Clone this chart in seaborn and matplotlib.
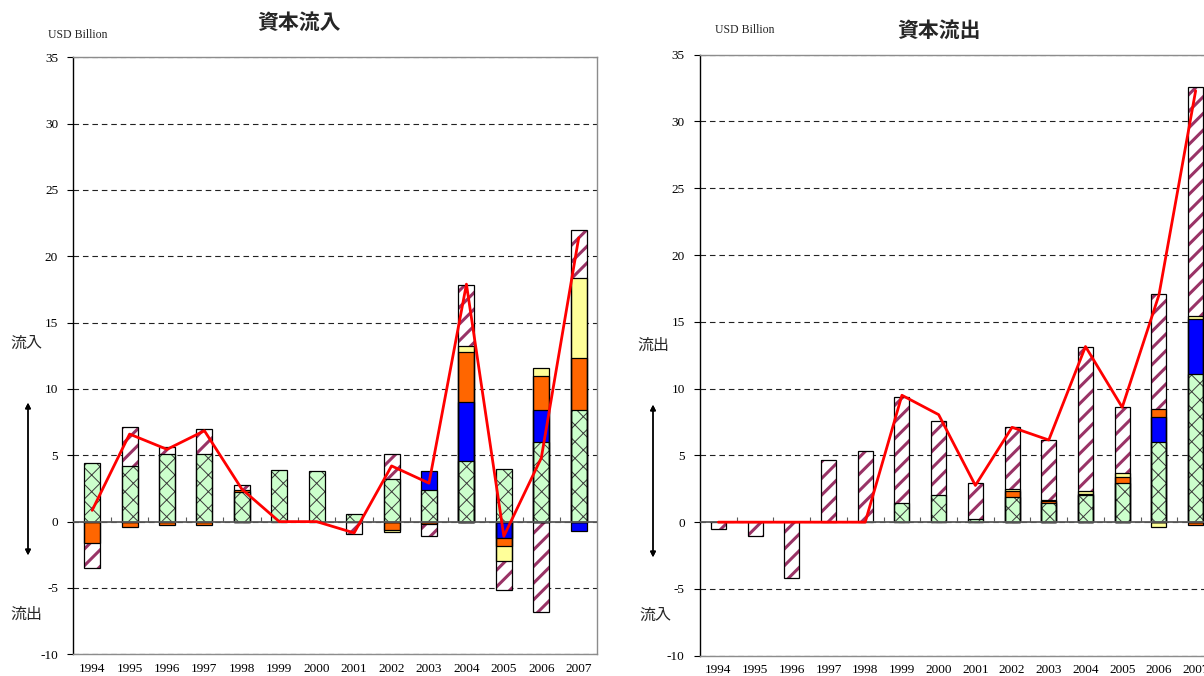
import numpy as np
import seaborn as sns
import matplotlib.pyplot as plt

years = [str(y) for y in range(1994, 2008)]

# 資本流入 (USD Billion), stacked bottom -> top
green_in = [4.4, 4.2, 5.1, 5.1, 2.2, 3.9, 3.8, 0.6, 3.2, 2.4, 4.6, 4.0, 6.0, 8.4]
blue_in = [0, 0, 0, 0, 0, 0, 0, 0, 0, 1.4, 4.4, -1.2, 2.4, -0.7]
orange_in = [-1.6, -0.4, -0.25, -0.25, 0.2, 0, 0, 0, -0.6, -0.15, 3.8, -0.6, 2.6, 3.9]
yellow_in = [0, 0, 0, 0, 0, 0, 0, 0, -0.2, 0, 0.45, -1.2, 0.6, 6.1]
purple_in = [-1.9, 2.9, 0.5, 1.9, 0.35, 0, 0, -0.9, 1.9, -0.9, 4.6, -2.15, -6.8, 3.6]
net_in = [0.85, 6.6, 5.45, 6.85, 2.45, 0, 0, -0.85, 4.2, 2.9, 17.9, -1.1, 4.8, 21.4]

# 資本流出 (USD Billion)
green_out = [0, 0, 0, 0, 0, 1.4, 2.05, 0.25, 1.9, 1.4, 2.05, 2.95, 6.0, 11.1]
blue_out = [0, 0, 0, 0, 0, 0, 0, 0, 0, 0, 0, 0, 1.9, 4.1]
orange_out = [0, 0, 0, 0, 0, 0, 0, 0, 0.45, 0.15, 0.08, 0.4, 0.6, -0.25]
yellow_out = [0, 0, 0, 0, 0, 0, 0, 0, 0.1, 0.1, 0.22, 0.35, -0.35, 0.2]
purple_out = [-0.5, -1.0, -4.15, 4.65, 5.3, 7.95, 5.55, 2.7, 4.65, 4.5, 10.8, 4.9, 8.6, 17.2]
net_out = [0, 0, 0, 0, 0, 9.5, 8.05, 2.75, 7.1, 6.15, 13.15, 8.6, 17.0, 32.3]

# face colour, hatch, hatch colour, hatch width
layers = [
    ('#CCFFCC', 'xx', '#3a3a3a', 0.7),
    ('#0000FF', None, None, 0),
    ('#FF6600', None, None, 0),
    ('#FFFF99', None, None, 0),
    ('#FFFFFF', '//', '#993366', 2.2),
]

sns.set_theme(style="white")
plt.rcParams['font.family'] = ['Liberation Serif', 'DejaVu Serif']
plt.rcParams['axes.unicode_minus'] = False
plt.rcParams['hatch.linewidth'] = 0.7
JP = ['Noto Sans CJK JP', 'DejaVu Sans']


def draw_panel(ax, series, net, width):
    vals = np.array(series, dtype=float)
    for sign in (1, -1):
        part = np.where(vals * sign > 0, vals, 0.0)
        cum = np.cumsum(part, axis=0)
        tops = [np.where(part[i] != 0, cum[i], np.nan) for i in range(len(layers))]
        # painter's order: tallest cumulative bar first
        for i in reversed(range(len(layers))):
            if np.all(np.isnan(tops[i])):
                continue
            face, hatch, hcol, hlw = layers[i]
            n0 = len(ax.patches)
            sns.barplot(x=years, y=tops[i], order=years, color=face, saturation=1,
                        width=width, errorbar=None, ax=ax)
            for p in ax.patches[n0:]:
                p.set_facecolor(face)
                p.set_linewidth(0)
                p.set_zorder(2)
                if hatch:
                    p.set_hatch(hatch)
                    p.set_edgecolor(hcol)
                    if hasattr(p, 'set_hatch_linewidth'):
                        p.set_hatch_linewidth(hlw)
        # black outlines of every segment
        for i in range(len(layers)):
            if np.all(np.isnan(tops[i])):
                continue
            n0 = len(ax.patches)
            sns.barplot(x=years, y=tops[i], order=years, fill=False, color='black',
                        width=width, errorbar=None, ax=ax)
            for p in ax.patches[n0:]:
                p.set_facecolor('none')
                p.set_edgecolor('black')
                p.set_linewidth(0.9)
                p.set_zorder(2.1)

    sns.lineplot(x=np.arange(len(years)), y=net, color='#FF0000', linewidth=2,
                 ax=ax, zorder=4)

    ax.set_xlim(-0.5, len(years) - 0.5)
    ax.set_ylim(-10, 35)
    ax.set_yticks(range(-10, 36, 5))
    ax.set_xticks(range(len(years)))
    ax.set_xticklabels(years)
    ax.set_xlabel('')
    ax.set_ylabel('')
    ax.yaxis.grid(True, color='#222222', linestyle=(0, (5, 3.5)), linewidth=0.8)
    ax.xaxis.grid(False)
    ax.set_axisbelow(True)
    ax.axhline(0, color='#5a5a5a', lw=1.3, zorder=3)
    ax.vlines(np.arange(0.5, len(years) - 1), 0, 0.35, color='#5a5a5a', lw=0.8, zorder=3)
    for s in ['top', 'right', 'bottom']:
        ax.spines[s].set_color('#8c8c8c')
        ax.spines[s].set_linewidth(1)
    ax.spines['left'].set_color('black')
    ax.spines['left'].set_linewidth(1)
    ax.tick_params(axis='y', left=True, direction='out', length=4, width=0.8,
                   color='black', pad=7, labelsize=9.5, labelcolor='black')
    ax.tick_params(axis='x', bottom=False, length=0, pad=6, labelsize=9.5,
                   labelcolor='black')


fig = plt.figure(figsize=(12.04, 6.76), dpi=100)
ax1 = fig.add_axes([0.0610, 0.0321, 0.4352, 0.8831])
ax2 = fig.add_axes([0.5814, 0.0300, 0.4269, 0.8891])

draw_panel(ax1, [green_in, blue_in, orange_in, yellow_in, purple_in], net_in, 0.43)
draw_panel(ax2, [green_out, blue_out, orange_out, yellow_out, purple_out], net_out, 0.41)

W, H = 1204, 676
fig.text(299 / W, 1 - 22 / H, '資本流入', ha='center', va='center', fontsize=15,
         family=JP, weight='bold')
fig.text(939 / W, 1 - 30 / H, '資本流出', ha='center', va='center', fontsize=15,
         family=JP, weight='bold')
fig.text(48 / W, 1 - 35 / H, 'USD Billion', ha='left', va='center', fontsize=8.5)
fig.text(715 / W, 1 - 30 / H, 'USD Billion', ha='left', va='center', fontsize=8.5)

fig.text(26 / W, 1 - 343 / H, '流入', ha='center', va='center', fontsize=11.5, family=JP)
fig.text(26 / W, 1 - 614 / H, '流出', ha='center', va='center', fontsize=11.5, family=JP)
fig.text(653 / W, 1 - 345 / H, '流出', ha='center', va='center', fontsize=11.5, family=JP)
fig.text(655 / W, 1 - 615 / H, '流入', ha='center', va='center', fontsize=11.5, family=JP)

for x, y0, y1 in [(28, 400, 558), (653, 402, 560)]:
    fig.add_artist(plt.annotate('', xy=(x / W, 1 - y0 / H), xytext=(x / W, 1 - y1 / H),
                                xycoords='figure fraction', textcoords='figure fraction',
                                arrowprops=dict(arrowstyle='<|-|>', color='black', lw=1,
                                                mutation_scale=8)))

fig.savefig('out.png', dpi=100, facecolor='white')
